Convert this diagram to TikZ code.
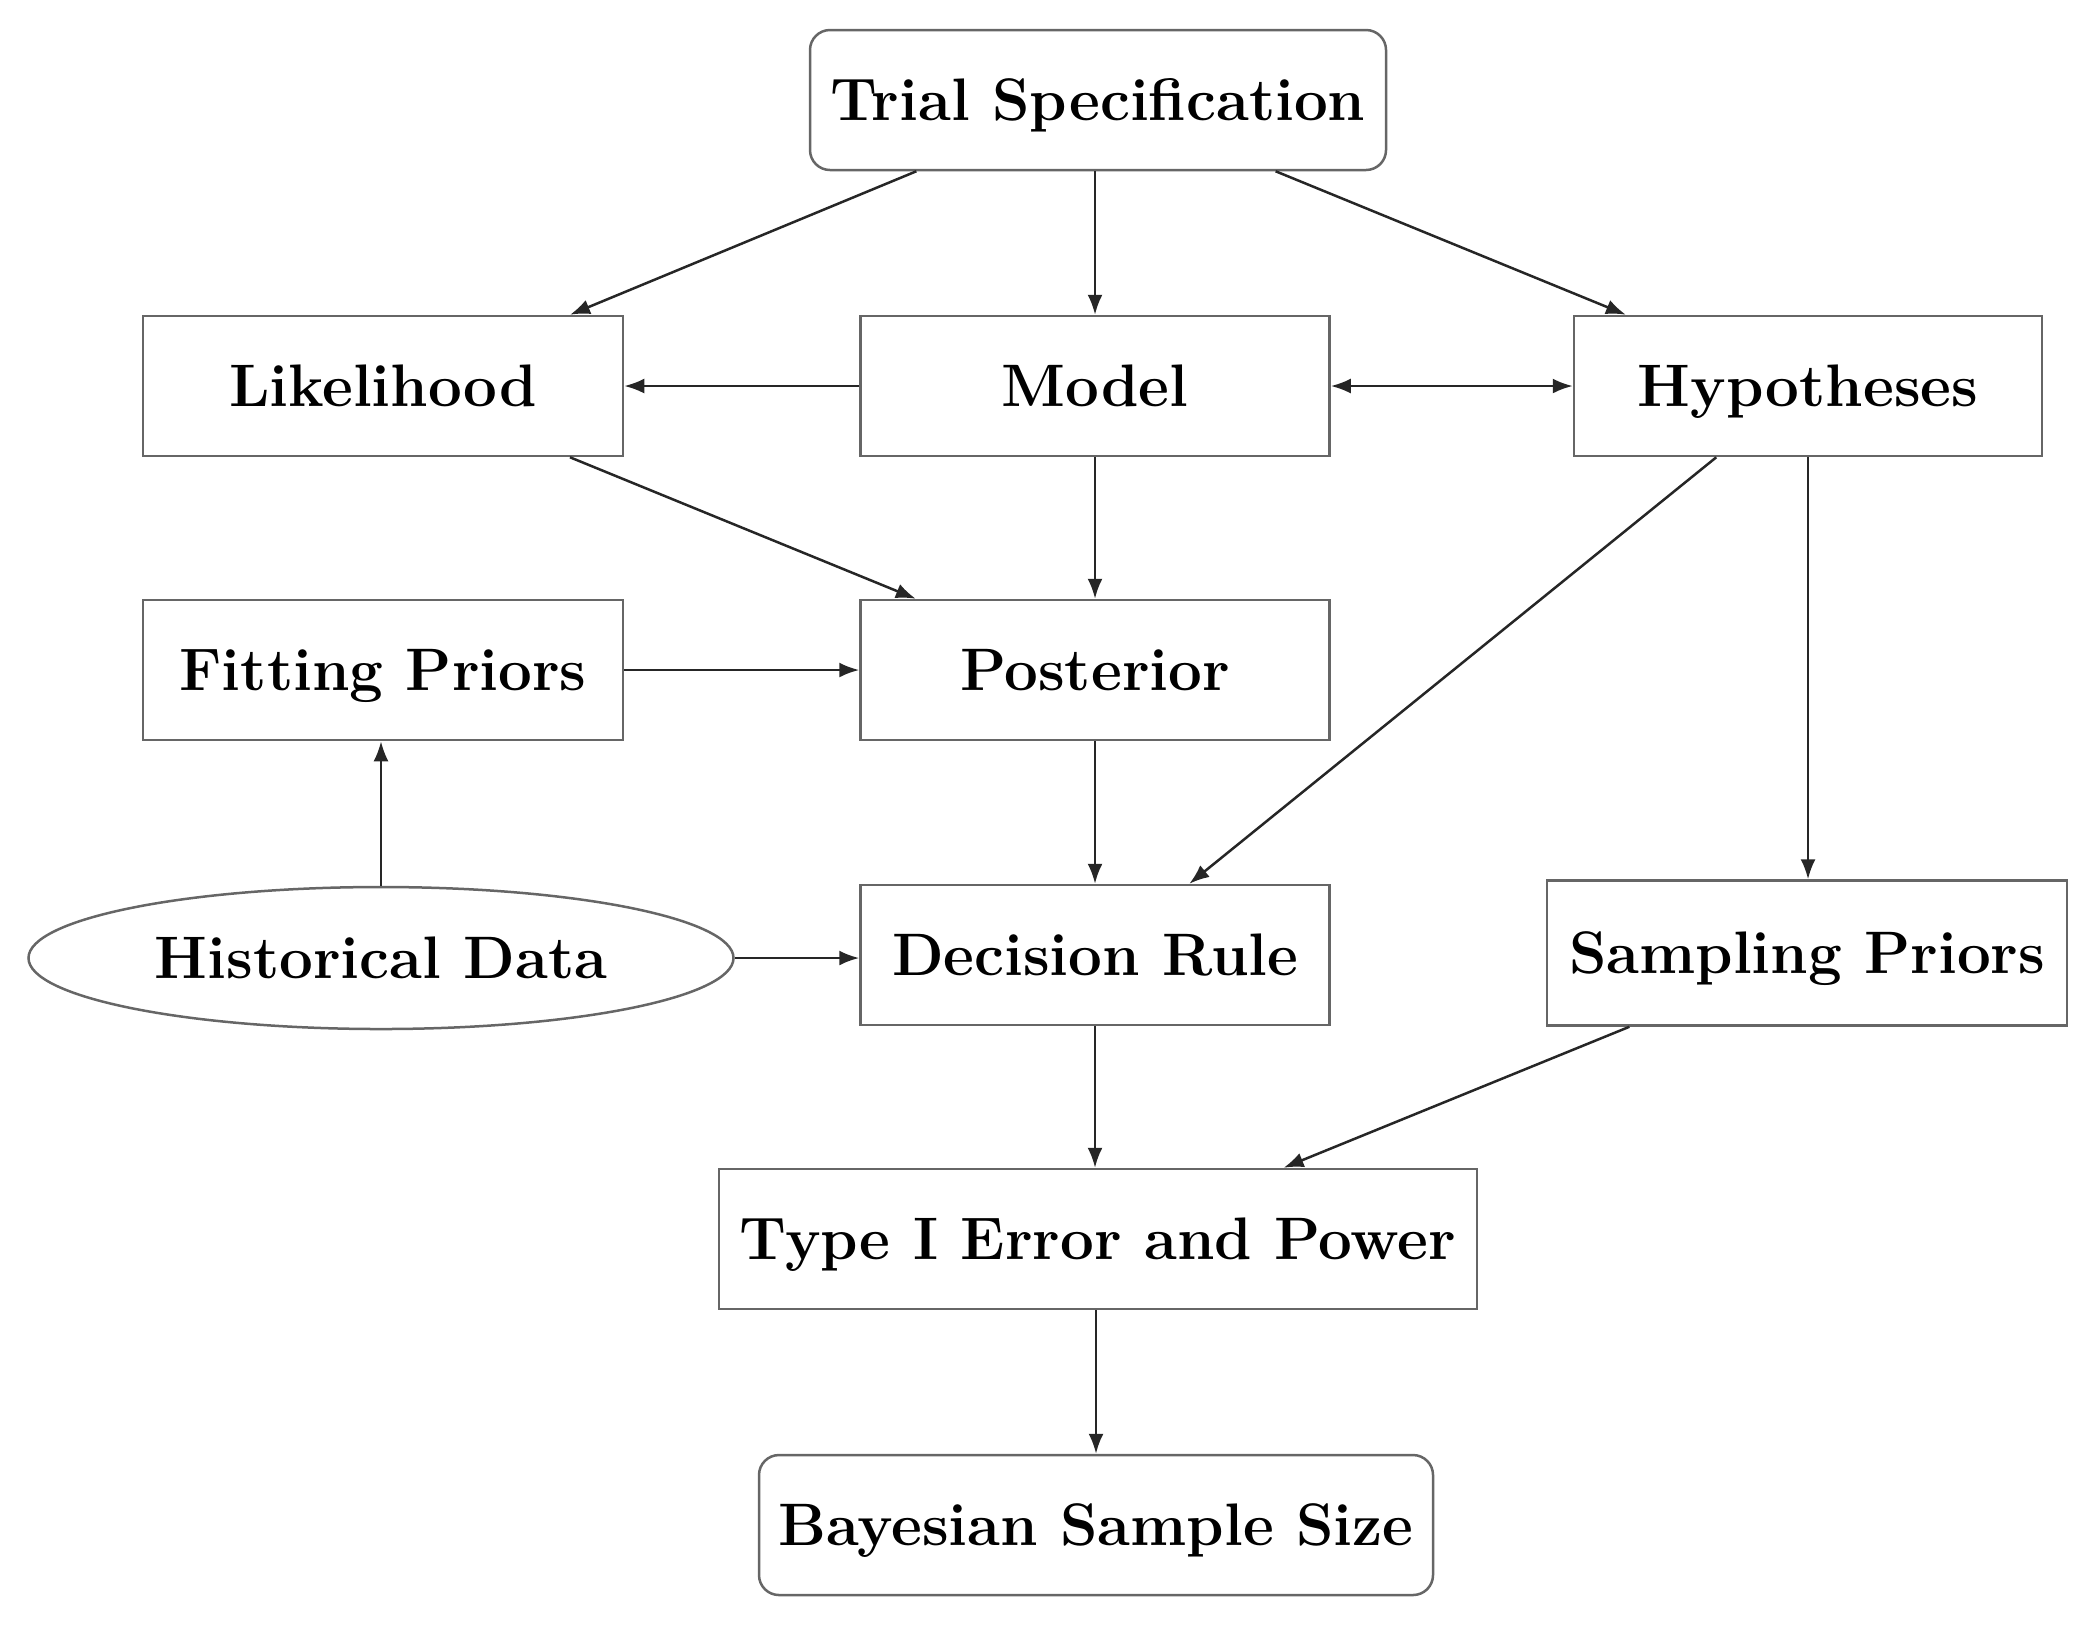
\documentclass[tikz,border=0pt]{standalone}
\usetikzlibrary{shapes.geometric,arrows.meta,calc}
\begin{document}
\begin{tikzpicture}[x=0.2pt,y=-0.2pt,
  every node/.style={font=\fontsize{12}{14}\selectfont\bfseries, inner sep=0pt, text height=8.3pt, text depth=0pt},
  box/.style={draw=black!60, line width=0.5pt, rectangle, minimum height=28pt},
  rbox/.style={box, rounded corners=4pt},
  oval/.style={draw=black!60, line width=0.5pt, ellipse, minimum width=141pt, minimum height=28.4pt},
  conn/.style={draw=black!85, line width=0.5pt, -{Latex[length=4pt,width=3pt]}},
  dconn/.style={draw=black!85, line width=0.5pt, {Latex[length=4pt,width=3pt]}-{Latex[length=4pt,width=3pt]}}]
\useasboundingbox (0,0) rectangle (2100,1629);
\node[rbox, minimum width=115.2pt] (trial) at (1098,100) {Trial Specification};
\node[box, minimum width=96pt] (lik) at (383,386) {Likelihood};
\node[box, minimum width=93.8pt] (model) at (1095,386) {Model};
\node[box, minimum width=93.6pt] (hyp) at (1808,386) {Hypotheses};
\node[box, minimum width=96pt] (fit) at (383,670) {Fitting Priors};
\node[box, minimum width=93.8pt] (post) at (1095,670) {Posterior};
\node[oval] (hist) at (381,958) {Historical Data};
\node[box, minimum width=93.8pt] (dec) at (1095,955) {Decision Rule};
\node[box, minimum width=104pt, minimum height=29pt] (samp) at (1807,953) {Sampling Priors};
\node[box, minimum width=151.6pt] (type) at (1098,1239) {Type I Error and Power};
\node[rbox, minimum width=134.8pt] (bayes) at (1096,1525) {Bayesian Sample Size};

\draw[conn] ($(trial.south west)!0.186!(trial.south east)$) -- ($(lik.north west)!0.8875!(lik.north east)$);
\draw[conn] (trial.south -| model.north) -- (model.north);
\draw[conn] ($(trial.south west)!0.807!(trial.south east)$) -- ($(hyp.north west)!0.113!(hyp.north east)$);
\draw[conn] (model.west) -- (lik.east);
\draw[dconn] (model.east) -- (hyp.west);
\draw[conn] ($(lik.south west)!0.8875!(lik.south east)$) -- ($(post.north west)!0.12!(post.north east)$);
\draw[conn] (model.south) -- (post.north);
\draw[conn] (fit.east) -- (post.west);
\draw[conn] ($(hyp.south west)!0.305!(hyp.south east)$) -- ($(dec.north west)!0.70!(dec.north east)$);
\draw[conn] (hyp.south) -- (hyp.south |- samp.north);
\draw[conn] (hist.north) -- (hist.north |- fit.south);
\draw[conn] (hist.east) -- (hist.east -| dec.west);
\draw[conn] (post.south) -- (dec.north);
\draw[conn] (dec.south) -- (dec.south |- type.north);
\draw[conn] ($(samp.south west)!0.16!(samp.south east)$) -- ($(type.north west)!0.744!(type.north east)$);
\draw[conn] (type.south -| bayes.north) -- (bayes.north);
\end{tikzpicture}
\end{document}
